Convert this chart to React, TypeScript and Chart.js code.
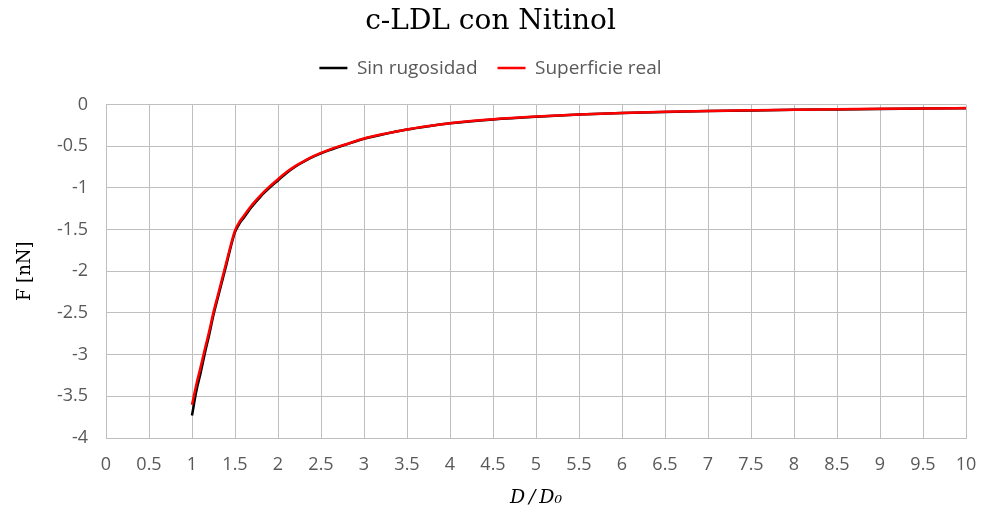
import React, { useEffect, useRef } from "react";
import { Chart, registerables } from "chart.js";

Chart.register(...registerables);

const titleText = "c-LDL con Nitinol";
const seriesNames = ["Sin rugosidad", "Superficie real"];

const xTickLabels = ["0", "0.5", "1", "1.5", "2", "2.5", "3", "3.5", "4", "4.5", "5", "5.5", "6", "6.5", "7", "7.5", "8", "8.5", "9", "9.5", "10"];
const yTickLabels = ["-4", "-3.5", "-3", "-2.5", "-2", "-1.5", "-1", "-0.5", "0"];

const xValues = [1.0, 1.05, 1.1, 1.15, 1.2, 1.25, 1.3, 1.35, 1.4, 1.45, 1.5, 1.55, 1.6, 1.7, 1.8, 1.9, 2.0, 2.1, 2.2, 2.3, 2.4, 2.5, 2.6, 2.8, 3.0, 3.25, 3.5, 3.75, 4.0, 4.5, 5.0, 5.5, 6.0, 6.5, 7.0, 7.5, 8.0, 8.5, 9.0, 9.5, 10.0];

const sinRugosidad = [-3.73, -3.44, -3.22, -2.98, -2.76, -2.52, -2.32, -2.12, -1.92, -1.71, -1.53, -1.43, -1.36, -1.22, -1.10, -1.00, -0.91, -0.82, -0.745, -0.685, -0.63, -0.585, -0.545, -0.475, -0.41, -0.35, -0.30, -0.26, -0.225, -0.178, -0.145, -0.120, -0.102, -0.088, -0.078, -0.070, -0.063, -0.058, -0.052, -0.047, -0.043];

const superficieReal = [-3.60, -3.36, -3.15, -2.93, -2.72, -2.49, -2.29, -2.09, -1.89, -1.69, -1.51, -1.41, -1.34, -1.20, -1.085, -0.985, -0.895, -0.81, -0.738, -0.68, -0.625, -0.58, -0.54, -0.472, -0.407, -0.348, -0.298, -0.258, -0.223, -0.177, -0.144, -0.119, -0.101, -0.087, -0.077, -0.069, -0.062, -0.057, -0.051, -0.046, -0.042];

export default function App() {
  const ref = useRef<HTMLCanvasElement>(null);

  useEffect(() => {
    document.body.style.margin = "0";
    const canvas = ref.current;
    if (!canvas) return;
    const tickFont = { family: "'Open Sans'", size: 18 };
    const gridColor = "#bfbfbf";
    const chart = new Chart(canvas, {
      type: "line",
      data: {
        datasets: [
          {
            label: seriesNames[0],
            data: xValues.map((x, i) => ({ x, y: sinRugosidad[i] })),
            borderColor: "#000000",
            backgroundColor: "#000000",
            borderWidth: 2.5,
            pointRadius: 0,
            cubicInterpolationMode: "monotone",
            order: 1,
          },
          {
            label: seriesNames[1],
            data: xValues.map((x, i) => ({ x, y: superficieReal[i] })),
            borderColor: "#ff0000",
            backgroundColor: "#ff0000",
            borderWidth: 2.5,
            pointRadius: 0,
            cubicInterpolationMode: "monotone",
            order: 0,
          },
        ],
      },
      options: {
        responsive: false,
        animation: false,
        layout: { padding: { left: 15, right: 15, top: 0, bottom: 0 } },
        plugins: {
          tooltip: { enabled: false },
          title: {
            display: true,
            text: titleText,
            color: "#000000",
            font: { family: "'DejaVu Serif'", size: 28, weight: "normal" },
            padding: { top: 5, bottom: 0 },
          },
          legend: {
            display: true,
            position: "top",
            labels: {
              usePointStyle: true,
              pointStyle: "line",
              pointStyleWidth: 28,
              color: "#595959",
              font: { family: "'Open Sans'", size: 19 },
              padding: 20,
              sort: (a: any, b: any) => a.datasetIndex - b.datasetIndex,
            },
          },
        },
        scales: {
          x: {
            type: "linear",
            position: "bottom",
            min: 0,
            max: 10,
            afterFit: (s: any) => {
              s.height = 81;
              s.paddingRight = 0;
              s.paddingLeft = 0;
            },
            ticks: {
              stepSize: 0.5,
              autoSkip: false,
              maxRotation: 0,
              padding: 16,
              color: "#595959",
              font: tickFont,
              callback: (_v: any, i: number) => xTickLabels[i],
            },
            grid: { color: gridColor, lineWidth: 1, drawTicks: false },
            border: { color: gridColor, width: 1 },
            title: {
              display: true,
              text: "D\u2009/\u2009D\u2080",
              color: "#000000",
              font: { family: "'DejaVu Serif'", size: 19, style: "italic" },
              padding: { top: 0, bottom: 10 },
            },
          },
          xTop: {
            type: "linear",
            position: "top",
            min: 0,
            max: 10,
            display: true,
            afterFit: (s: any) => {
              s.height = 17;
              s.paddingRight = 0;
              s.paddingLeft = 0;
            },
            ticks: { display: false },
            grid: { display: false, drawTicks: false },
            border: { display: false },
          },
          y: {
            type: "linear",
            min: -4,
            max: 0,
            afterFit: (s: any) => {
              s.width = 91;
            },
            ticks: {
              stepSize: 0.5,
              padding: 18,
              color: "#595959",
              font: tickFont,
              callback: (_v: any, i: number) => yTickLabels[i],
            },
            grid: { color: gridColor, lineWidth: 1, drawTicks: false },
            border: { color: gridColor, width: 1 },
            title: {
              display: true,
              text: "F [nN]",
              color: "#000000",
              font: { family: "'DejaVu Serif'", size: 18 },
              padding: { top: 0, bottom: 0 },
            },
          },
        },
      },
    } as any);
    return () => chart.destroy();
  }, []);

  return (
    <div style={{ width: 981, height: 519 }}>
      <canvas ref={ref} width={981} height={519} style={{ display: "block" }} />
    </div>
  );
}
